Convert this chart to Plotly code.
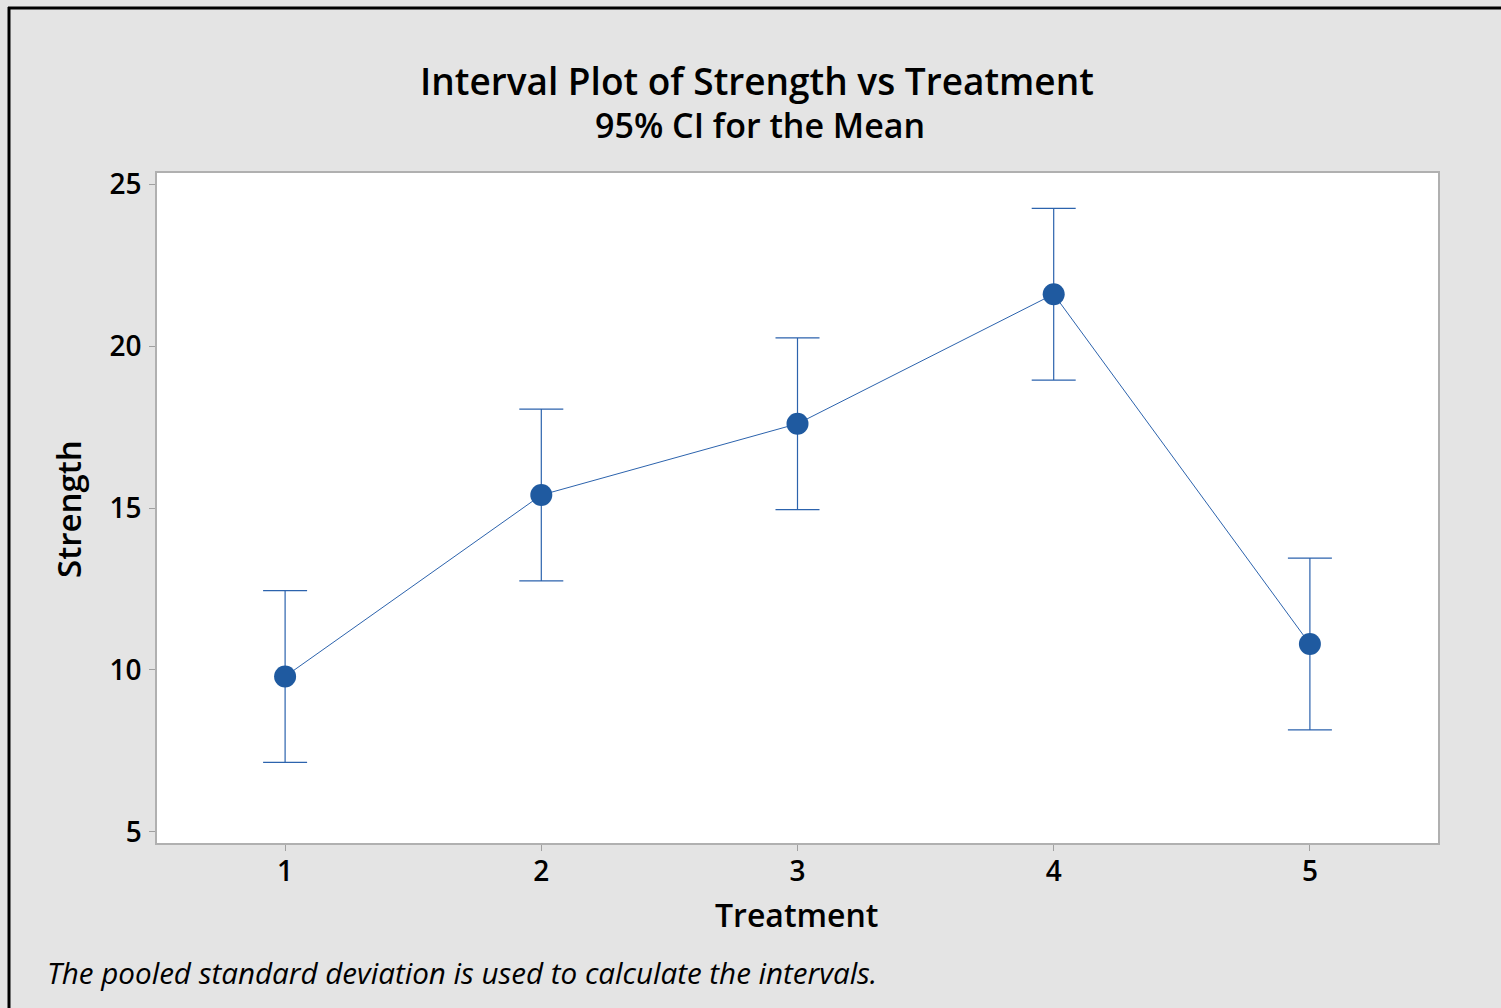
import plotly.graph_objects as go

treatments = [1, 2, 3, 4, 5]
means = [9.8, 15.4, 17.6, 21.6, 10.8]
ci_half = [2.65, 2.65, 2.65, 2.65, 2.65]
y_ticks = [5, 10, 15, 20, 25]

W, H = 1501, 1008
L, R, T, B = 157, 1438, 173, 843

def px(x):
    return (x - L) / (R - L)

def py(y):
    return (B - y) / (B - T)

FONT = "Open Sans"
blue = "#1f5aa0"

fig = go.Figure()
fig.add_trace(go.Scatter(
    x=treatments, y=means, mode="lines+markers",
    line=dict(color="#2c63ad", width=1),
    marker=dict(size=22, color=blue),
    error_y=dict(type="data", array=ci_half, visible=True, color="#2c63ad", thickness=1.2, width=22),
    showlegend=False,
))

fig.update_layout(
    width=W, height=H,
    margin=dict(l=L, r=W - R, t=T, b=H - B),
    paper_bgcolor="#e4e4e4",
    plot_bgcolor="white",
    font=dict(family=FONT, color="black"),
    xaxis=dict(range=[0.5, 5.5], tickvals=treatments, ticks="outside", ticklen=6,
               tickcolor="#a0a0a0", showgrid=False, zeroline=False,
               showline=True, linecolor="#b0b0b0", mirror=True, linewidth=1.5,
               ticklabelstandoff=-3,
               tickfont=dict(size=28, family=FONT, weight=600)),
    yaxis=dict(range=[4.66, 25.34], tickvals=y_ticks, ticks="outside", ticklen=6,
               tickcolor="#a0a0a0", showgrid=False, zeroline=False,
               showline=True, linecolor="#b0b0b0", mirror=True, linewidth=1.5,
               ticklabelstandoff=2,
               tickfont=dict(size=28, family=FONT, weight=600)),
)

annos = [
    dict(text="Interval Plot of Strength vs Treatment", x=px(757), y=py(80), size=37, weight=600),
    dict(text="95% CI for the Mean", x=px(760), y=py(125), size=34, weight=600),
    dict(text="Treatment", x=px(797), y=py(914), size=32, weight=600),
]
for a in annos:
    fig.add_annotation(text=a["text"], xref="paper", yref="paper", x=a["x"], y=a["y"],
                       xanchor="center", yanchor="middle", showarrow=False,
                       font=dict(size=a["size"], family=FONT, weight=a["weight"]))
fig.add_annotation(text="Strength", xref="paper", yref="paper", x=px(68), y=py(509),
                   xanchor="center", yanchor="middle", showarrow=False, textangle=-90,
                   font=dict(size=33, family=FONT, weight=600))
fig.add_annotation(text="The pooled standard deviation is used to calculate the intervals.",
                   xref="paper", yref="paper", x=px(45), y=py(973),
                   xanchor="left", yanchor="middle", showarrow=False,
                   font=dict(size=29.6, family=FONT, style="italic"))

# outer frame (top and left black lines)
fig.add_shape(type="line", xref="paper", yref="paper", x0=px(8), x1=px(W + 5), y0=py(8), y1=py(8),
              line=dict(color="black", width=3))
fig.add_shape(type="line", xref="paper", yref="paper", x0=px(9), x1=px(9), y0=py(7), y1=py(H + 5),
              line=dict(color="black", width=3))

fig.write_html("out.html")
